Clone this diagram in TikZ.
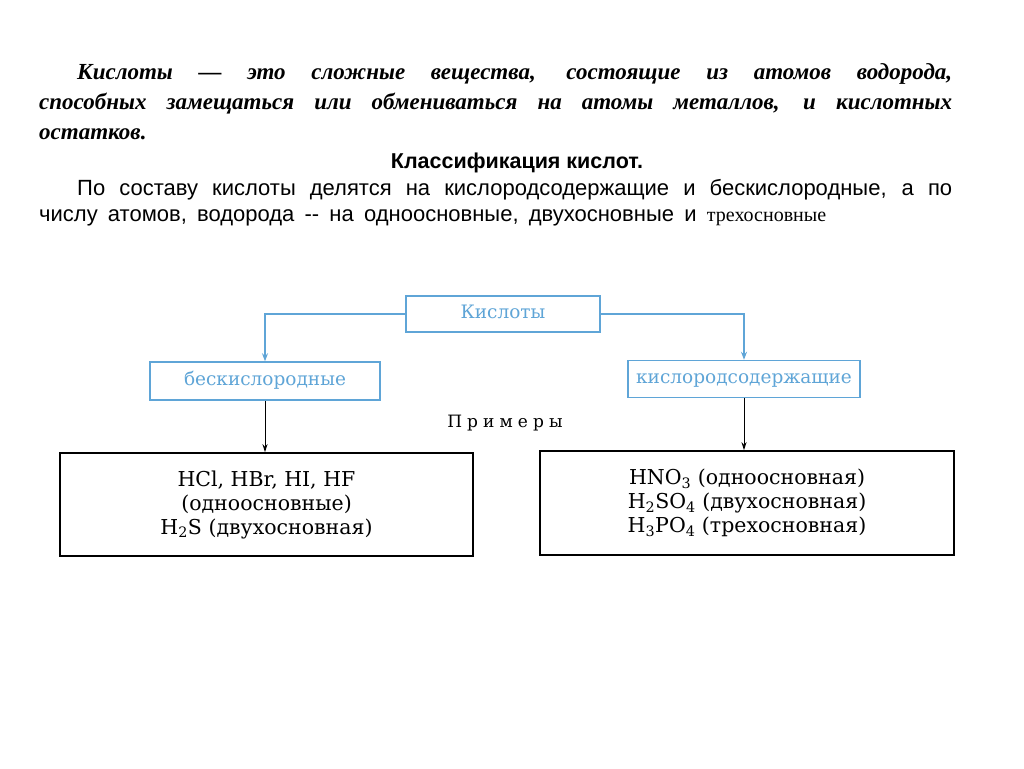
\documentclass[tikz,border=0pt]{standalone}
\usepackage{fontspec}
\setmainfont{Liberation Serif}
\newfontfamily\bodysans{Liberation Sans}
\newfontfamily\headsans{Liberation Sans}
\newfontfamily\boxserif{DejaVu Serif}
\newfontfamily\spacedserif{DejaVu Serif}[LetterSpace=30]
\usetikzlibrary{arrows.meta}
\definecolor{acidblue}{RGB}{95,165,215}
\begin{document}
\begin{tikzpicture}[x=1pt, y=-1pt,
    bluebox/.style={draw=acidblue, line width=1.5pt, text=acidblue, inner sep=0pt,
      text height=12pt, text depth=4pt, font=\boxserif\fontsize{18.5}{20}\selectfont},
    blackbox/.style={draw=black, line width=1.6pt, inner sep=0pt, align=center,
      font=\boxserif\fontsize{20.5}{24}\selectfont},
    bluearrow/.style={draw=acidblue, line width=1.1pt, -{Stealth[length=8pt, width=6pt]}},
    blackarrow/.style={draw=black, line width=1pt, -{Stealth[length=8pt, width=5pt]}}]
  \useasboundingbox[fill=white] (0,0) rectangle (1024,768);

  % Definition and classification text
  \node[anchor=north west, inner sep=0pt, text width=913pt, align=justify,
    font=\bfseries\itshape\fontsize{23}{30}\selectfont] (definition) at (39,63.5)
    {\hspace*{38pt}Кислоты — это сложные вещества, состоящие из атомов водорода,\linebreak
     способных замещаться или обмениваться на атомы металлов, и кислотных\linebreak
     остатков.};
  \node[anchor=base, inner sep=0pt, font=\headsans\bfseries\fontsize{21.5}{24}\selectfont] (heading)
    at (517,168) {Классификация кислот.};
  \node[anchor=north west, inner sep=0pt, text width=913pt, align=justify,
    font=\bodysans\fontsize{22}{26}\selectfont] (classification) at (39,179)
    {\spaceskip=10.2pt plus 20pt\relax
     \hspace*{38pt}По составу кислоты делятся на кислородсодержащие и бескислородные, а по\linebreak
     числу атомов, водорода -- на одноосновные, двухосновные и
     {\rmfamily\fontsize{20}{26}\selectfont трехосновные}};

  % Scheme
  \node[bluebox, minimum width=194pt, minimum height=36pt] (acids) at (503,314) {Кислоты};
  \node[bluebox, minimum width=230pt, minimum height=38pt] (oxygenfree) at (265,381) {бескислородные};
  \node[bluebox, minimum width=232pt, minimum height=37pt] (oxygenic) at (744,379) {кислородсодержащие};
  \node[font=\spacedserif\fontsize{17}{20}\selectfont] (examples) at (505,423) {Примеры};
  \node[blackbox, minimum width=413pt, minimum height=103pt] (freeex) at (266.5,504.5)
    {HCl, HBr, HI, HF\\(одноосновные)\\H\textsubscript{2}S (двухосновная)};
  \node[blackbox, minimum width=414pt, minimum height=104pt] (oxyex) at (747,503)
    {HNO\textsubscript{3} (одноосновная)\\H\textsubscript{2}SO\textsubscript{4} (двухосновная)\\H\textsubscript{3}PO\textsubscript{4} (трехосновная)};

  \draw[bluearrow] (acids.west) -| (oxygenfree.north);
  \draw[bluearrow] (acids.east) -| (oxygenic.north);
  \draw[blackarrow] (oxygenfree.south) -- (oxygenfree.south |- freeex.north);
  \draw[blackarrow] (oxygenic.south) -- (oxygenic.south |- oxyex.north);
\end{tikzpicture}
\end{document}
